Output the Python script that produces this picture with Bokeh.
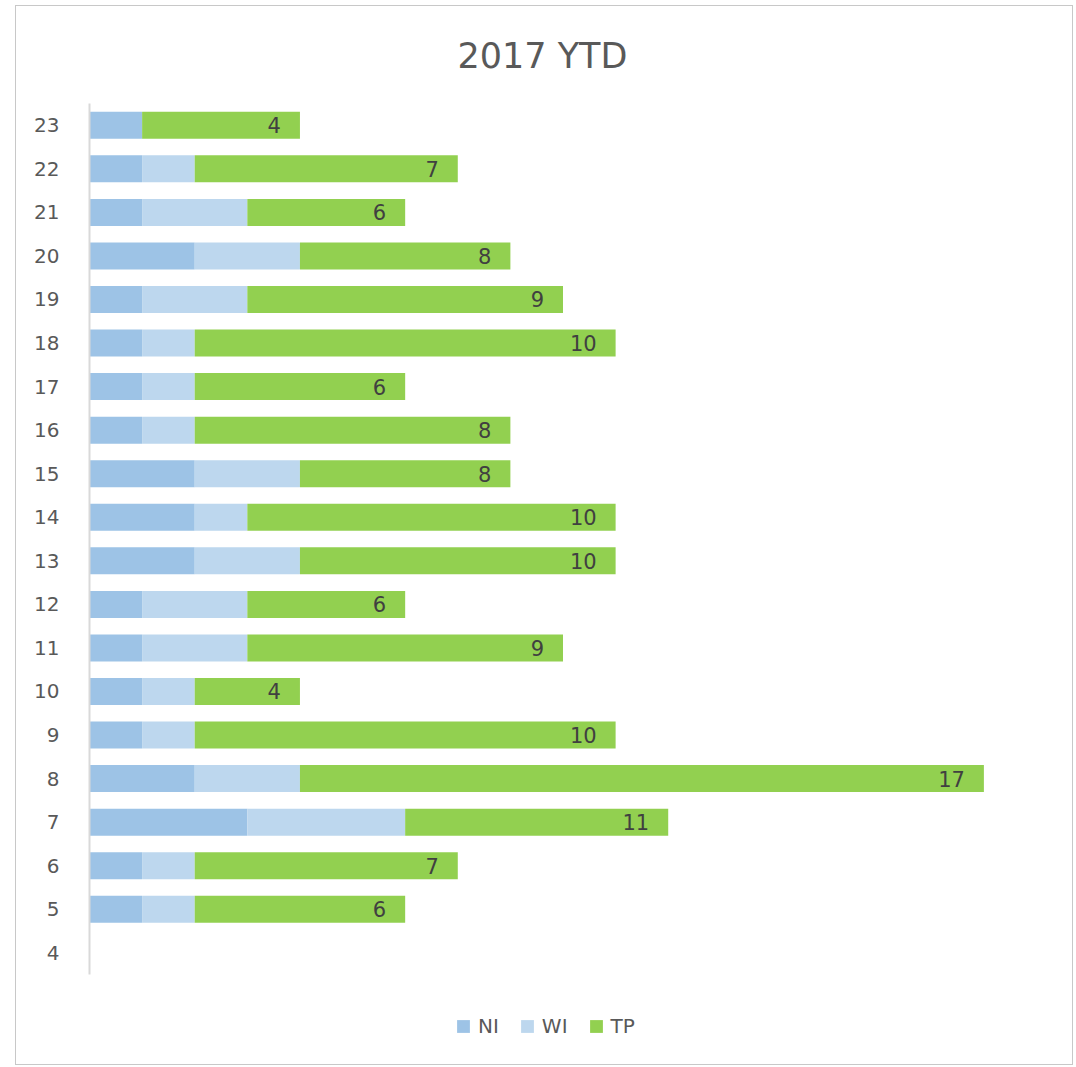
from bokeh.plotting import figure
from bokeh.models import ColumnDataSource, Range1d, Legend, LegendItem, FixedTicker
from bokeh.embed import file_html
from bokeh.resources import INLINE

categories = [str(i) for i in range(4, 24)]
ni = [0, 1, 1, 3, 2, 1, 1, 1, 1, 2, 2, 2, 1, 1, 1, 1, 2, 1, 1, 1]
wi = [0, 1, 1, 3, 2, 1, 1, 2, 2, 2, 1, 2, 1, 1, 1, 2, 2, 2, 1, 0]
tp = [0, 4, 5, 5, 13, 8, 2, 6, 3, 6, 7, 4, 6, 4, 8, 6, 4, 3, 5, 3]
series = ["NI", "WI", "TP"]
colors = ["#9DC3E6", "#BDD7EE", "#92D050"]

ypos = [float(c) for c in categories]
totals = [a + b + c for a, b, c in zip(ni, wi, tp)]
label_y = [y for y, t in zip(ypos, totals) if t > 0]
label_vals = [t for t in totals if t > 0]

src = ColumnDataSource(dict(y=ypos, NI=ni, WI=wi, TP=tp))
lab = ColumnDataSource(dict(y=label_y, tot=label_vals, txt=[str(v) for v in label_vals]))

FONT = "DejaVu Sans"

# layout (pixels)
W, H = 1058, 1060
ML, MR, MT, MB = 73, 38, 96, 0
ROW_PX = 43.6
frame_h = H - MT - MB
y_top = ypos[-1] + 0.5
y_bot = y_top - frame_h / ROW_PX

p = figure(
    y_range=Range1d(y_bot, y_top),
    x_range=Range1d(0, 18),
    width=W, height=H,
    output_backend="svg", toolbar_location=None,
    min_border_left=ML, min_border_right=MR, min_border_top=MT, min_border_bottom=MB,
    title="2017 YTD",
)
p.styles = {"border": "1px solid #c8c8c8", "position": "relative", "left": "15px", "top": "5px"}
p.outline_line_color = None

rs = p.hbar_stack(series, y="y", height=0.62, color=colors, source=src, line_color=None)

p.text(x="tot", y="y", text="txt", source=lab, x_offset=-19, text_align="right",
       text_baseline="middle", text_font_size="21px", text_color="#404040",
       text_font={"value": FONT})

p.title.align = "left"
p.title.text_font = FONT
p.title.text_font_size = "35px"
p.title.text_font_style = "normal"
p.title.text_color = "#595959"
p.title.standoff = 55
p.title.offset = 368

p.xaxis.visible = False
p.xgrid.grid_line_color = None
p.ygrid.grid_line_color = None
ax = p.yaxis[0]
ax.ticker = FixedTicker(ticks=ypos)
ax.major_label_overrides = {y: c for y, c in zip(ypos, categories)}
ax.bounds = (ypos[0] - 0.5, ypos[-1] + 0.5)
ax.axis_line_color = "#d9d9d9"
ax.axis_line_width = 2
ax.major_tick_line_color = None
ax.minor_tick_line_color = None
ax.major_tick_out = 0
ax.major_tick_in = 0
ax.major_label_standoff = 30
ax.major_label_text_font = FONT
ax.major_label_text_font_size = "20px"
ax.major_label_text_color = "#595959"

legend = Legend(
    items=[LegendItem(label=s, renderers=[r]) for s, r in zip(series, rs)],
    orientation="horizontal", location=(366, 28),
    glyph_width=16, glyph_height=16, label_standoff=7, spacing=20, padding=0, margin=0,
    label_text_font=FONT, label_text_font_size="20px", label_text_color="#595959",
    border_line_color=None, background_fill_alpha=0,
)
p.add_layout(legend, "center")

open("out.html", "w").write(file_html(p, INLINE))
